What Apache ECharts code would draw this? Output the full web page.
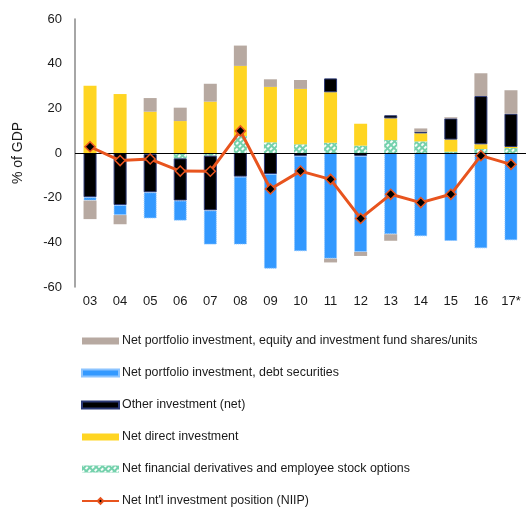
<!DOCTYPE html>
<html><head><meta charset="utf-8">
<script src="https://cdn.jsdelivr.net/npm/echarts@6/dist/echarts.min.js"></script>
<style>html,body{margin:0;padding:0;background:#fff}#c{width:526px;height:507px}</style>
</head><body><div id="c"></div>
<script>
var categories = ['03','04','05','06','07','08','09','10','11','12','13','14','15','16','17*'];
var derivatives = [0, 0, -0.5, -2.4, -1.2, 7.6, 4.8, 3.9, 4.6, 3.3, 5.8, 5.2, 0.6, 1.8, 2.2];
var directInv = [30.1, 26.4, 18.5, 14.3, 23.0, 31.4, 24.8, 24.8, 22.6, 9.8, 9.7, 3.6, 5.4, 2.1, 0.5];
var otherInv = [-19.8, -23.3, -17.1, -18.9, -24.5, -10.6, -9.4, -1.3, 6.2, -1.3, 1.4, 0.6, 9.5, 21.6, 14.9];
var debtSec = [-1.5, -4.5, -11.7, -9.0, -15.3, -30.4, -42.4, -42.7, -47.3, -43.0, -36.4, -37.3, -39.4, -42.7, -39.1];
var equity = [-8.3, -4.1, 6.1, 6.0, 8.0, 9.1, 3.4, 4.0, -1.7, -1.8, -2.9, 1.6, 0.5, 10.2, 10.5];
var niip = [2.8, -3.4, -2.7, -8.1, -8.2, 9.9, -16.1, -8.1, -11.8, -29.3, -18.5, -22.2, -18.5, -1.2, -5.1];
var yTicks = {min: -60, max: 60, interval: 20};

var names = {
  eq: 'Net portfolio investment, equity and investment fund shares/units',
  debt: 'Net portfolio investment, debt securities',
  other: 'Other investment (net)',
  direct: 'Net direct investment',
  deriv: 'Net financial derivatives and employee stock options',
  niip: "Net Int'l investment position (NIIP)"
};

var chart = echarts.init(document.getElementById('c'));
var bw = 13;
chart.setOption({
  animation: false,
  textStyle: {fontFamily: 'Liberation Sans, Arial, sans-serif'},
  grid: {left: 75, right: -4, top: 19, bottom: 220},
  legend: {
    orient: 'vertical', left: 81, top: 335, padding: 0,
    itemWidth: 37, itemHeight: 7, itemGap: 20,
    textStyle: {fontSize: 12.4, color: '#1a1a1a', lineHeight: 12, padding: [0, 0, 0, -2]},
    data: [
      {name: names.eq, icon: 'rect'},
      {name: names.debt, icon: 'rect'},
      {name: names.other, icon: 'rect'},
      {name: names.direct, icon: 'rect'},
      {name: names.deriv, icon: 'rect'},
      {name: names.niip}
    ]
  },
  xAxis: {
    type: 'category', data: categories,
    axisLine: {show: false, onZero: false},
    axisTick: {show: false},
    axisLabel: {fontSize: 13, color: '#1a1a1a', margin: 8}
  },
  yAxis: {
    type: 'value', min: yTicks.min, max: yTicks.max, interval: yTicks.interval,
    name: '% of GDP', nameLocation: 'middle', nameRotate: 90, nameGap: 50,
    nameTextStyle: {fontSize: 14, color: '#1a1a1a'},
    axisLine: {show: true, lineStyle: {color: '#888', width: 1.5}},
    axisTick: {show: false},
    splitLine: {show: false},
    axisLabel: {fontSize: 13, color: '#1a1a1a', margin: 13}
  },
  series: [
    {name: names.deriv, type: 'bar', stack: 's', barWidth: bw, data: derivatives,
     itemStyle: {color: '#74d1ac', decal: {symbol: 'rect', symbolSize: 1, dashArrayX: [[3, 2]], dashArrayY: [2, 2], rotation: -Math.PI / 4, color: 'rgba(255,255,255,0.95)'}}},
    {name: names.direct, type: 'bar', stack: 's', barWidth: bw, data: directInv,
     itemStyle: {color: '#ffd522'}},
    {name: names.other, type: 'bar', stack: 's', barWidth: bw, data: otherInv,
     itemStyle: {color: '#000000', borderColor: '#2b3875', borderWidth: 1}},
    {name: names.debt, type: 'bar', stack: 's', barWidth: bw, data: debtSec,
     itemStyle: {color: '#3399ff', borderColor: '#8cc4ff', borderWidth: 1, borderType: 'dotted'}},
    {name: names.eq, type: 'bar', stack: 's', barWidth: bw, data: equity,
     itemStyle: {color: '#b7a9a1'}},
    {name: names.niip, type: 'line', data: niip, z: 5,
     symbol: 'diamond', symbolSize: 10,
     lineStyle: {color: '#e8541e', width: 3},
     itemStyle: {color: '#000', borderColor: '#e8541e', borderWidth: 1.5},
     markLine: {silent: true, symbol: 'none', label: {show: false},
       lineStyle: {color: '#000', width: 1, type: 'solid'}, data: [{yAxis: 0}]}}
  ]
});
</script>
</body></html>
